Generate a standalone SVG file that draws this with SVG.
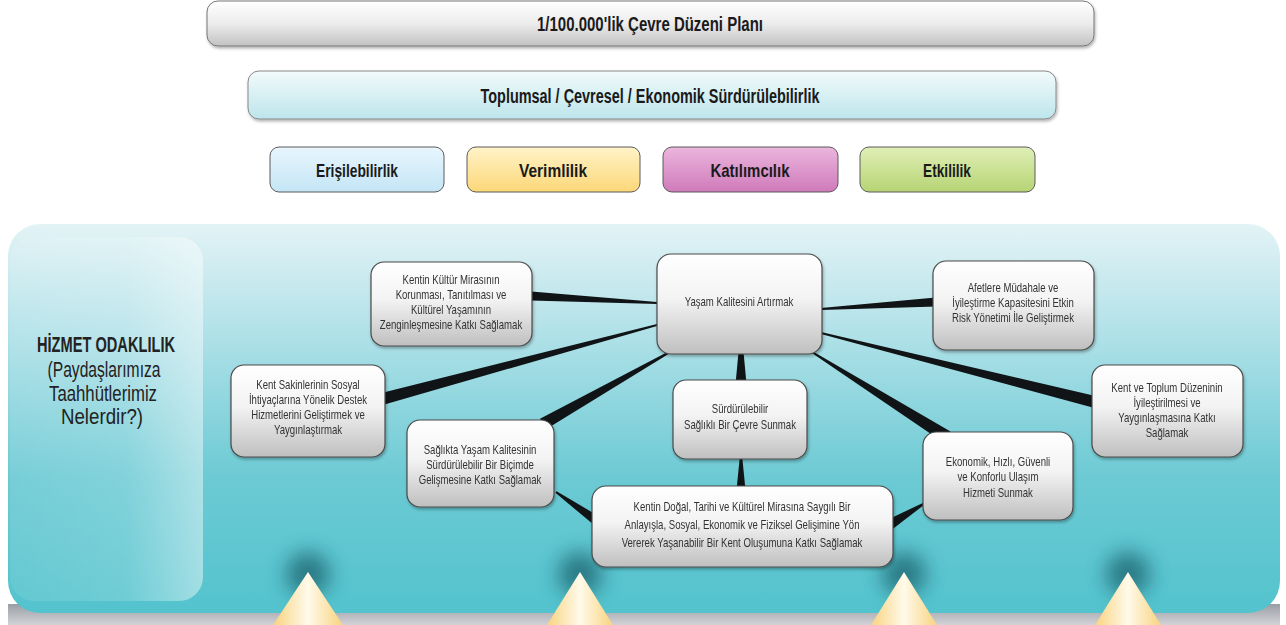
<svg xmlns="http://www.w3.org/2000/svg" width="1286" height="625" viewBox="0 0 1286 625">
<defs>
<linearGradient id="gGrey" x1="0" y1="0" x2="0" y2="1"><stop offset="0" stop-color="#ffffff"/><stop offset="0.5" stop-color="#ececec"/><stop offset="1" stop-color="#c2c2c2"/></linearGradient>
<linearGradient id="gCyan" x1="0" y1="0" x2="0" y2="1"><stop offset="0" stop-color="#f2fbfc"/><stop offset="1" stop-color="#bde5eb"/></linearGradient>
<linearGradient id="gBlue" x1="0" y1="0" x2="0" y2="1"><stop offset="0" stop-color="#e8f6fd"/><stop offset="1" stop-color="#c4e5f6"/></linearGradient>
<linearGradient id="gYellow" x1="0" y1="0" x2="0" y2="1"><stop offset="0" stop-color="#fff3c8"/><stop offset="1" stop-color="#fcd778"/></linearGradient>
<linearGradient id="gPink" x1="0" y1="0" x2="0" y2="1"><stop offset="0" stop-color="#ebb6dd"/><stop offset="1" stop-color="#cf7aba"/></linearGradient>
<linearGradient id="gGreen" x1="0" y1="0" x2="0" y2="1"><stop offset="0" stop-color="#e0efb6"/><stop offset="1" stop-color="#b6d474"/></linearGradient>
<linearGradient id="gNode" x1="0" y1="0" x2="0" y2="1"><stop offset="0" stop-color="#ffffff"/><stop offset="0.45" stop-color="#f3f3f3"/><stop offset="1" stop-color="#bfbfbf"/></linearGradient>
<linearGradient id="gPanel" x1="0" y1="0" x2="0" y2="1"><stop offset="0" stop-color="#e3f3f6"/><stop offset="0.3" stop-color="#ade0e7"/><stop offset="0.65" stop-color="#6ccad4"/><stop offset="1" stop-color="#53c3cd"/></linearGradient>
<linearGradient id="gInner" x1="0" y1="0" x2="1" y2="0"><stop offset="0" stop-color="#ffffff" stop-opacity="0.08"/><stop offset="0.6" stop-color="#ffffff" stop-opacity="0.15"/><stop offset="1" stop-color="#ffffff" stop-opacity="0.45"/></linearGradient>
<linearGradient id="gTri" x1="0" y1="0" x2="1" y2="0"><stop offset="0" stop-color="#f9d37f"/><stop offset="0.5" stop-color="#fffaea"/><stop offset="1" stop-color="#f9d37f"/></linearGradient>
<linearGradient id="gStrip" x1="0" y1="0" x2="0" y2="1"><stop offset="0" stop-color="#9a9ea4"/><stop offset="1" stop-color="#d2d3d7"/></linearGradient>
<filter id="sh" x="-10%" y="-10%" width="130%" height="140%"><feDropShadow dx="1" dy="2" stdDeviation="1.5" flood-color="#000" flood-opacity="0.3"/></filter>
<filter id="blur" x="-50%" y="-50%" width="200%" height="200%"><feGaussianBlur stdDeviation="10"/></filter>
<style>
.hdr{font-family:"Liberation Sans",Arial,sans-serif;font-weight:bold;fill:#1a1a1a;text-anchor:middle}
.box{stroke:#5a5a5a;stroke-width:1}
.node{fill:url(#gNode);stroke:#4a4a4a;stroke-width:1.2}
.nt{font-family:"Liberation Sans",Arial,sans-serif;font-size:12px;fill:#333;text-anchor:middle}
.lt{font-family:"Liberation Sans",Arial,sans-serif;fill:#222;text-anchor:middle}
.con{fill:#101416}
.tri{fill:url(#gTri)}
</style>
</defs>
<rect width="1286" height="625" fill="#ffffff"/>

<g id="header-plan">
<rect x="207" y="1" width="887" height="45" rx="11" fill="url(#gGrey)" stroke="#777" filter="url(#sh)"/>
<text class="hdr" x="650" y="31" font-size="20" textLength="226" lengthAdjust="spacingAndGlyphs">1/100.000'lik Çevre Düzeni Planı</text>
</g>
<g id="header-sustain">
<rect x="248" y="71" width="808" height="48" rx="11" fill="url(#gCyan)" stroke="#888" filter="url(#sh)"/>
<text class="hdr" x="650" y="103" font-size="20" textLength="339" lengthAdjust="spacingAndGlyphs">Toplumsal / Çevresel / Ekonomik Sürdürülebilirlik</text>
</g>
<g id="p-erisilebilirlik">
<rect class="box" x="270" y="147" width="174" height="45" rx="9" fill="url(#gBlue)"/>
<text class="hdr" x="357" y="177" font-size="19" textLength="82" lengthAdjust="spacingAndGlyphs">Erişilebilirlik</text>
</g>
<g id="p-verimlilik">
<rect class="box" x="467" y="147" width="173" height="45" rx="9" fill="url(#gYellow)"/>
<text class="hdr" x="553" y="177" font-size="19" textLength="68" lengthAdjust="spacingAndGlyphs">Verimlilik</text>
</g>
<g id="p-katilimcilik">
<rect class="box" x="663" y="147" width="175" height="45" rx="9" fill="url(#gPink)"/>
<text class="hdr" x="750" y="177" font-size="19" textLength="79" lengthAdjust="spacingAndGlyphs">Katılımcılık</text>
</g>
<g id="p-etkililik">
<rect class="box" x="860" y="147" width="175" height="45" rx="9" fill="url(#gGreen)"/>
<text class="hdr" x="947" y="177" font-size="19" textLength="48" lengthAdjust="spacingAndGlyphs">Etkililik</text>
</g>

<g id="panel">
<rect x="8" y="604" width="1272" height="21" fill="url(#gStrip)"/>
<rect x="8" y="224" width="1272" height="389" rx="32" fill="url(#gPanel)"/>
<g filter="url(#blur)" fill="#1d6873" opacity="0.8">
<ellipse cx="308" cy="574" rx="22" ry="22"/>
<ellipse cx="580" cy="574" rx="22" ry="22"/>
<ellipse cx="904" cy="574" rx="22" ry="22"/>
<ellipse cx="1128" cy="574" rx="22" ry="22"/>
</g>
<rect x="10" y="237" width="193" height="364" rx="24" fill="url(#gInner)"/>
</g>

<g id="hizmet-odaklilik">
<text class="lt" x="106" y="352" font-size="22" font-weight="bold" textLength="138" lengthAdjust="spacingAndGlyphs">HİZMET ODAKLILIK</text>
<text class="lt" x="104" y="377" font-size="22" textLength="113" lengthAdjust="spacingAndGlyphs">(Paydaşlarımıza</text>
<text class="lt" x="103" y="401" font-size="22" textLength="108" lengthAdjust="spacingAndGlyphs">Taahhütlerimiz</text>
<text class="lt" x="102" y="424" font-size="22" textLength="82" lengthAdjust="spacingAndGlyphs">Nelerdir?)</text>
</g>

<g id="connectors">
<polygon class="con" points="657,302 531.3,291.5 530.7,300.5 657,304"/>
<polygon class="con" points="821,308 935.7,297.5 936.3,306.5 821,310"/>
<polygon class="con" points="657,324 380.4,393.2 383.6,404.8 657,326"/>
<polygon class="con" points="821,332 1096.5,396.2 1093.5,407.8 821,334"/>
<polygon class="con" points="667.5,352.1 668.5,353.9 546,429.2 540,418.8"/>
<polygon class="con" points="811.5,352.8 812.5,351.2 950.5,431.5 943.5,442.5"/>
<polygon class="con" points="740,336 742,336 746.5,384 735.5,384"/>
<polygon class="con" points="740,455 742,455 745.5,490 736.5,490"/>
<polygon class="con" points="555.4,492.8 556.6,491.2 599.9,516.9 594.1,525.1"/>
<polygon class="con" points="925.5,503.8 924.5,502.2 886,520.4 892,529.6"/>
</g>

<g id="n-yasam" filter="url(#sh)">
<rect class="node" x="657" y="254" width="165" height="100" rx="14"/>
<g transform="translate(739,0) scale(0.8,1)"><text class="nt" x="0" y="306">Yaşam Kalitesini Artırmak</text></g>
</g>
<g id="n-kultur" filter="url(#sh)">
<rect class="node" x="371" y="262" width="161" height="84" rx="13"/>
<g transform="translate(451,0) scale(0.8,1)">
<text class="nt" x="0" y="284">Kentin Kültür Mirasının</text>
<text class="nt" x="0" y="299">Korunması, Tanıtılması ve</text>
<text class="nt" x="0" y="314">Kültürel Yaşamının</text>
<text class="nt" x="0" y="329">Zenginleşmesine Katkı Sağlamak</text>
</g>
</g>
<g id="n-afet" filter="url(#sh)">
<rect class="node" x="933" y="261" width="161" height="89" rx="13"/>
<g transform="translate(1013,0) scale(0.8,1)">
<text class="nt" x="0" y="292">Afetlere Müdahale ve</text>
<text class="nt" x="0" y="307">İyileştirme Kapasitesini Etkin</text>
<text class="nt" x="0" y="322">Risk Yönetimi İle Geliştirmek</text>
</g>
</g>
<g id="n-sosyal" filter="url(#sh)">
<rect class="node" x="231" y="365" width="154" height="92" rx="13"/>
<g transform="translate(308,0) scale(0.8,1)">
<text class="nt" x="0" y="389">Kent Sakinlerinin Sosyal</text>
<text class="nt" x="0" y="404">İhtiyaçlarına Yönelik Destek</text>
<text class="nt" x="0" y="419">Hizmetlerini Geliştirmek ve</text>
<text class="nt" x="0" y="434">Yaygınlaştırmak</text>
</g>
</g>
<g id="n-toplum" filter="url(#sh)">
<rect class="node" x="1092" y="365" width="151" height="92" rx="13"/>
<g transform="translate(1167,0) scale(0.8,1)">
<text class="nt" x="0" y="392">Kent ve Toplum Düzeninin</text>
<text class="nt" x="0" y="407">İyileştirilmesi ve</text>
<text class="nt" x="0" y="422">Yaygınlaşmasına Katkı</text>
<text class="nt" x="0" y="437">Sağlamak</text>
</g>
</g>
<g id="n-cevre" filter="url(#sh)">
<rect class="node" x="673" y="380" width="134" height="79" rx="13"/>
<g transform="translate(740,0) scale(0.8,1)">
<text class="nt" x="0" y="413">Sürdürülebilir</text>
<text class="nt" x="0" y="429">Sağlıklı Bir Çevre Sunmak</text>
</g>
</g>
<g id="n-saglik" filter="url(#sh)">
<rect class="node" x="407" y="420" width="147" height="87" rx="13"/>
<g transform="translate(480,0) scale(0.8,1)">
<text class="nt" x="0" y="454">Sağlıkta Yaşam Kalitesinin</text>
<text class="nt" x="0" y="469">Sürdürülebilir Bir Biçimde</text>
<text class="nt" x="0" y="484">Gelişmesine Katkı Sağlamak</text>
</g>
</g>
<g id="n-ulasim" filter="url(#sh)">
<rect class="node" x="923" y="432" width="150" height="88" rx="13"/>
<g transform="translate(998,0) scale(0.8,1)">
<text class="nt" x="0" y="466">Ekonomik, Hızlı, Güvenli</text>
<text class="nt" x="0" y="481">ve Konforlu Ulaşım</text>
<text class="nt" x="0" y="497">Hizmeti Sunmak</text>
</g>
</g>
<g id="n-kent" filter="url(#sh)">
<rect class="node" x="592" y="486" width="301" height="81" rx="14"/>
<g transform="translate(742,0) scale(0.8,1)">
<text class="nt" x="0" y="511">Kentin Doğal, Tarihi ve Kültürel Mirasına Saygılı Bir</text>
<text class="nt" x="0" y="529">Anlayışla, Sosyal, Ekonomik ve Fiziksel Gelişimine Yön</text>
<text class="nt" x="0" y="547">Vererek Yaşanabilir Bir Kent Oluşumuna Katkı Sağlamak</text>
</g>
</g>

<g id="triangles">
<polygon class="tri" points="308,572 273,625 343,625"/>
<polygon class="tri" points="580,572 547,625 613,625"/>
<polygon class="tri" points="904,572 871,625 937,625"/>
<polygon class="tri" points="1128,572 1095,625 1161,625"/>
</g>
</svg>
